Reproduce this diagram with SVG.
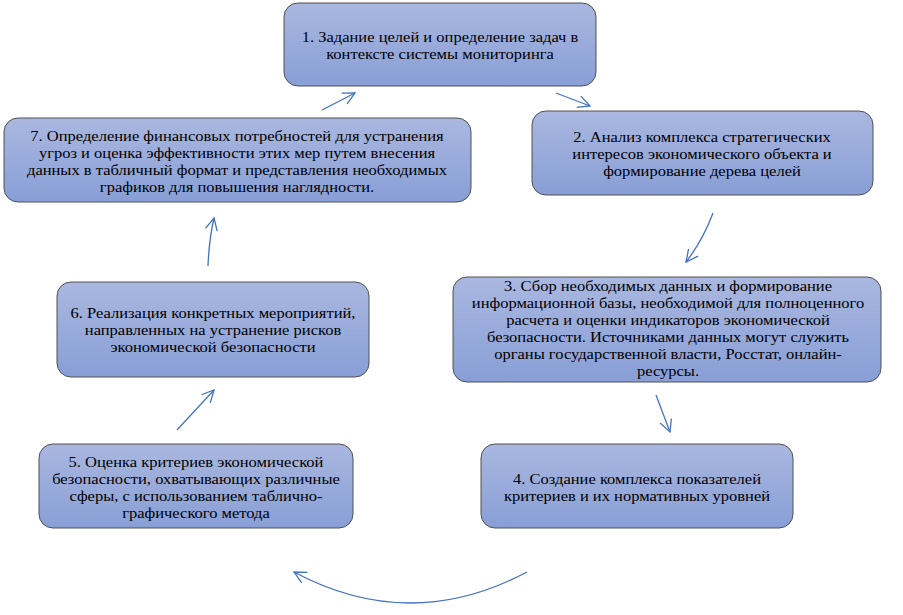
<svg xmlns="http://www.w3.org/2000/svg" width="903" height="615" viewBox="0 0 903 615">
<defs>
<linearGradient id="g" x1="0" y1="0" x2="0" y2="1">
<stop offset="0" stop-color="#aab8e0"/>
<stop offset="1" stop-color="#889ed6"/>
</linearGradient>
<marker id="ah" viewBox="0 0 14 14" refX="13" refY="7" markerWidth="14" markerHeight="14" markerUnits="userSpaceOnUse" orient="auto">
<polyline points="1,1 13,7 1,13" fill="none" stroke="#4472c4" stroke-width="1.3"/>
</marker>
<style>
.box{fill:url(#g);stroke:#505050;stroke-width:1}
.t{font-family:'Liberation Serif','Times New Roman',serif;font-size:15.3px;fill:#000;text-anchor:middle}
.c{fill:none;stroke:#4472c4;stroke-width:1.3;marker-end:url(#ah)}
</style>
</defs>
<rect width="903" height="615" fill="#fff"/>
<g id="connectors">
<path class="c" d="M556,93 L590,106"/>
<path class="c" d="M713,213 Q703,240 686,262"/>
<path class="c" d="M656,395 L670,432"/>
<path class="c" d="M527,572 Q410,634 294,572"/>
<path class="c" d="M177,430 L214,390"/>
<path class="c" d="M208,266 Q209,240 214,218"/>
<path class="c" d="M322,110 L355,93"/>
</g>
<g id="node1">
<rect class="box" x="284" y="3" width="312" height="83" rx="14"/>
<text class="t" transform="translate(440,42) scale(1.08,1)">1. Задание целей и определение задач в</text>
<text class="t" transform="translate(440,59) scale(1.08,1)">контексте системы мониторинга</text>
</g>
<g id="node2">
<rect class="box" x="532" y="111" width="341" height="84" rx="14"/>
<text class="t" transform="translate(702,142) scale(1.08,1)">2. Анализ  комплекса стратегических</text>
<text class="t" transform="translate(702,159) scale(1.08,1)">интересов экономического объекта и</text>
<text class="t" transform="translate(702,176) scale(1.08,1)">формирование дерева целей</text>
</g>
<g id="node3">
<rect class="box" x="453" y="277" width="428" height="105" rx="14"/>
<text class="t" transform="translate(668,291) scale(1.08,1)">3. Сбор необходимых данных и формирование</text>
<text class="t" transform="translate(668,308) scale(1.08,1)">информационной  базы, необходимой для полноценного</text>
<text class="t" transform="translate(668,325) scale(1.08,1)">расчета и оценки индикаторов экономической</text>
<text class="t" transform="translate(668,342) scale(1.08,1)">безопасности. Источниками данных могут служить</text>
<text class="t" transform="translate(668,359) scale(1.08,1)">органы государственной власти, Росстат, онлайн-</text>
<text class="t" transform="translate(668,376) scale(1.08,1)">ресурсы.</text>
</g>
<g id="node4">
<rect class="box" x="481" y="444" width="312" height="84" rx="14"/>
<text class="t" transform="translate(637,484) scale(1.08,1)">4. Создание комплекса показателей</text>
<text class="t" transform="translate(637,501) scale(1.08,1)">критериев и их нормативных  уровней</text>
</g>
<g id="node5">
<rect class="box" x="39" y="444" width="314" height="84" rx="14"/>
<text class="t" transform="translate(196,467) scale(1.08,1)">5. Оценка критериев экономической</text>
<text class="t" transform="translate(196,484) scale(1.08,1)">безопасности, охватывающих различные</text>
<text class="t" transform="translate(196,501) scale(1.08,1)">сферы, с использованием таблично-</text>
<text class="t" transform="translate(196,518) scale(1.08,1)">графического метода</text>
</g>
<g id="node6">
<rect class="box" x="57" y="282" width="312" height="95" rx="14"/>
<text class="t" transform="translate(213,318) scale(1.08,1)">6. Реализация  конкретных мероприятий,</text>
<text class="t" transform="translate(213,335) scale(1.08,1)">направленных  на устранение рисков</text>
<text class="t" transform="translate(213,352) scale(1.08,1)">экономической безопасности</text>
</g>
<g id="node7">
<rect class="box" x="4" y="118" width="467" height="84" rx="14"/>
<text class="t" transform="translate(237,141) scale(1.08,1)">7. Определение финансовых  потребностей для устранения</text>
<text class="t" transform="translate(237,158) scale(1.08,1)">угроз и оценка эффективности этих  мер путем внесения</text>
<text class="t" transform="translate(237,175) scale(1.08,1)">данных в табличный  формат и представления  необходимых</text>
<text class="t" transform="translate(237,192) scale(1.08,1)">графиков для повышения  наглядности.</text>
</g>
</svg>
